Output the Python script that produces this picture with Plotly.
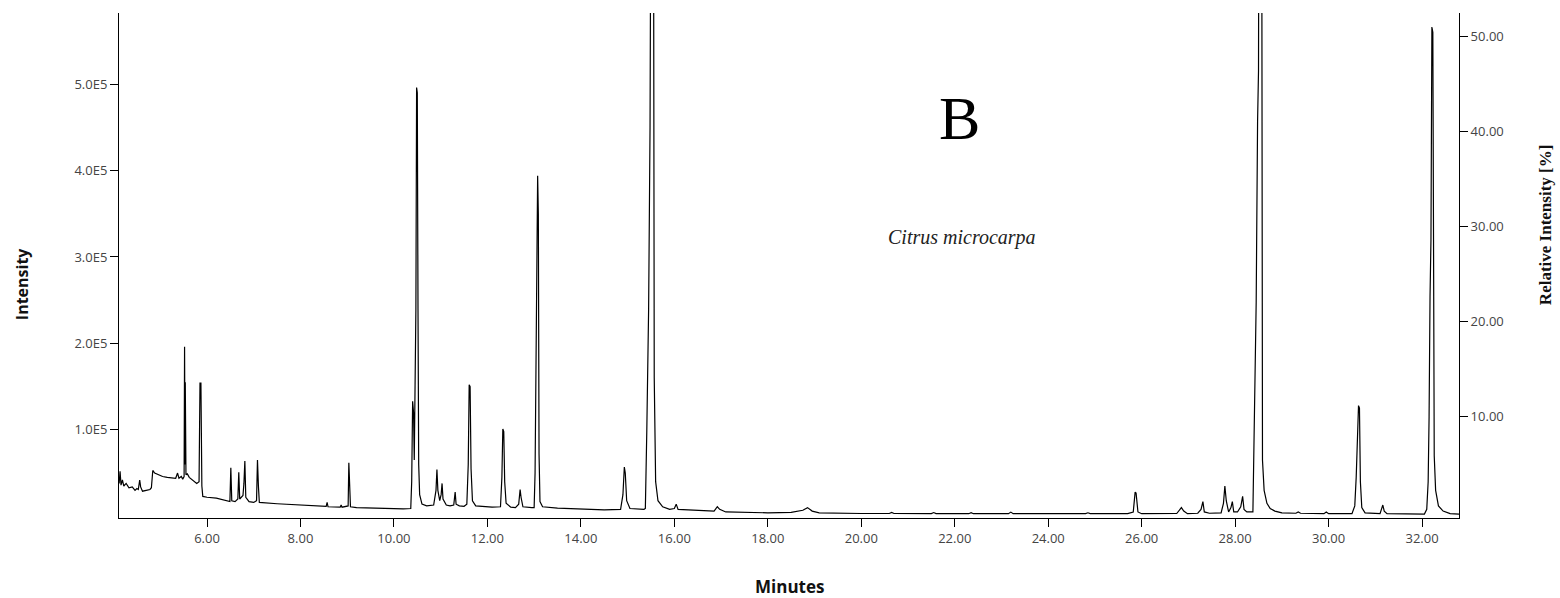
import plotly.graph_objects as go

# Retention time (minutes) and detector intensity
rt_min = [
    4.12, 4.14, 4.16, 4.19, 4.22, 4.27, 4.33, 4.40, 4.46, 4.50, 4.53, 4.56, 4.58, 4.62, 4.70, 4.78, 4.81,
    4.84, 4.88, 4.95, 5.05, 5.15, 5.25, 5.33, 5.37, 5.40, 5.45, 5.48, 5.51, 5.52, 5.53, 5.535, 5.55,
    5.58, 5.62, 5.70, 5.78, 5.83, 5.85, 5.87, 5.89, 5.91, 6.00, 6.20, 6.40, 6.49, 6.51, 6.53, 6.60,
    6.66, 6.68, 6.70, 6.77, 6.79, 6.81, 6.83, 6.90, 7.00, 7.06, 7.08, 7.10, 7.12, 7.50, 8.00, 8.20,
    8.55, 8.57, 8.59, 8.85, 8.87, 8.89, 9.02, 9.035, 9.05, 9.07, 9.20, 9.50, 9.80, 10.00, 10.20,
    10.36, 10.38, 10.40, 10.41, 10.42, 10.435, 10.455, 10.47, 10.485, 10.50, 10.515, 10.53, 10.55,
    10.60, 10.70, 10.85, 10.90, 10.92, 10.94, 10.98, 11.01, 11.03, 11.05, 11.12, 11.20, 11.28, 11.31,
    11.33, 11.40, 11.50, 11.56, 11.59, 11.61, 11.63, 11.65, 11.68, 11.75, 11.90, 12.10, 12.28, 12.31,
    12.33, 12.35, 12.37, 12.40, 12.50, 12.60, 12.67, 12.70, 12.72, 12.76, 12.95, 13.00, 13.02, 13.04,
    13.06, 13.075, 13.09, 13.105, 13.125, 13.18, 13.50, 14.00, 14.50, 14.85, 14.90, 14.93, 14.95,
    14.98, 15.05, 15.35, 15.38, 15.41, 15.45, 15.48, 15.51, 15.55, 15.57, 15.60, 15.65, 15.75, 15.90,
    16.00, 16.04, 16.08, 16.50, 16.85, 16.92, 16.97, 17.10, 17.50, 18.00, 18.50, 18.75, 18.85, 18.95,
    19.10, 19.50, 20.00, 20.60, 20.65, 20.70, 21.50, 21.55, 21.60, 22.30, 22.35, 22.40, 23.15, 23.20,
    23.25, 24.00, 24.80, 24.85, 24.90, 25.70, 25.82, 25.86, 25.88, 25.92, 26.00, 26.75, 26.85, 26.90,
    26.98, 27.20, 27.27, 27.31, 27.34, 27.45, 27.70, 27.75, 27.78, 27.81, 27.86, 27.91, 27.94, 27.97,
    28.05, 28.12, 28.16, 28.19, 28.25, 28.38, 28.40, 28.43, 28.45, 28.48, 28.50, 28.52, 28.56, 28.585,
    28.62, 28.68, 28.75, 28.85, 29.00, 29.30, 29.35, 29.40, 29.90, 29.95, 30.00, 30.50, 30.56, 30.59,
    30.62, 30.64, 30.66, 30.68, 30.71, 30.78, 31.10, 31.16, 31.19, 31.25, 32.05, 32.10, 32.13, 32.15,
    32.17, 32.19, 32.21, 32.23, 32.245, 32.26, 32.29, 32.35, 32.45, 32.60, 32.79,
]
intensity = [
    38000, 52000, 36000, 42000, 35000, 38000, 33000, 34000, 30000, 32000, 31000, 42000, 34000, 29000, 30000, 31000, 33000,
    53000, 50000, 48000, 46000, 45000, 44000, 44000, 50000, 44000, 46000, 43000, 46000, 196000, 60000, 155000, 48000,
    49000, 45000, 41000, 38000, 40000, 154000, 154000, 35000, 23000, 22000, 21000, 18000, 17000, 56000, 18000, 17000,
    20000, 51000, 20000, 24000, 38000, 64000, 22000, 17000, 16000, 18000, 65000, 35000, 16000, 14500, 13000, 12000,
    11500, 16000, 11000, 10500, 13000, 10500, 12000, 62000, 30000, 11000, 10000, 9500, 9000, 8500, 8500,
    9000, 40000, 133000, 128000, 120000, 65000, 200000, 240000, 496000, 490000, 240000, 60000, 25000,
    14000, 12000, 13000, 30000, 54000, 30000, 18000, 25000, 38000, 20000, 13000, 12000, 13000, 28000,
    14000, 12000, 11500, 14000, 60000, 152000, 150000, 55000, 18000, 12000, 11000, 10500, 11000, 45000,
    101000, 98000, 40000, 15000, 10500, 10000, 14000, 31000, 22000, 11000, 10000, 10000, 50000, 165000,
    340000, 394000, 350000, 72000, 17000, 11000, 9500, 8500, 7500, 8000, 25000, 57000, 50000,
    18000, 9000, 8000, 9000, 97000, 240000, 450000, 950000, 900000, 160000, 40000, 18000, 11000, 8000,
    9000, 14000, 8000, 6500, 6000, 11000, 8000, 5000, 4500, 4000, 4500, 7000, 10000, 6000,
    4000, 3500, 3200, 3200, 4500, 3200, 3100, 4300, 3100, 3000, 4200, 3000, 3000, 4800,
    3000, 3000, 3000, 4000, 3000, 3000, 5000, 28000, 27000, 5000, 3000, 3200, 10000, 6000,
    3000, 3500, 8000, 17000, 5000, 3500, 4000, 15000, 35000, 18000, 5000, 10000, 17000, 5000,
    5000, 11000, 23000, 8000, 5000, 5000, 65000, 155000, 247000, 457000, 515000, 1100000, 1100000, 65000,
    30000, 15000, 9000, 6000, 4000, 3500, 5000, 3500, 3000, 5000, 3000, 3000, 12000, 45000,
    110000, 128000, 125000, 40000, 10000, 4000, 3000, 13000, 6000, 3000, 2500, 8000, 40000, 115000,
    254000, 320000, 566000, 560000, 320000, 70000, 30000, 12000, 6000, 3000, 2500,
]

left_tick_vals = [100000, 200000, 300000, 400000, 500000]
left_tick_text = ["1.0E5", "2.0E5", "3.0E5", "4.0E5", "5.0E5"]
right_tick_vals = [10, 20, 30, 40, 50]
right_tick_text = ["10.00", "20.00", "30.00", "40.00", "50.00"]
x_tick_vals = [6, 8, 10, 12, 14, 16, 18, 20, 22, 24, 26, 28, 30, 32]
x_tick_text = ["%.2f" % v for v in x_tick_vals]

tick_font = dict(family="Open Sans, Noto Sans, sans-serif", size=13, color="#444444")

fig = go.Figure()
fig.add_trace(go.Scatter(
    x=rt_min, y=intensity, mode="lines",
    line=dict(color="black", width=1.2),
    showlegend=False, hoverinfo="x+y",
))
fig.add_trace(go.Scatter(x=[None], y=[None], yaxis="y2", showlegend=False, hoverinfo="skip"))

axis_common = dict(showline=True, linecolor="black", linewidth=1, ticks="outside",
                   ticklen=8, tickcolor="black", showgrid=False, zeroline=False,
                   tickfont=tick_font)

fig.update_layout(
    width=1560, height=598,
    margin=dict(l=119, r=101, t=13, b=80),
    paper_bgcolor="white", plot_bgcolor="white",
    xaxis=dict(range=[4.117, 32.79], tickvals=x_tick_vals, ticktext=x_tick_text, **axis_common),
    yaxis=dict(range=[-2000, 582200], tickvals=left_tick_vals, ticktext=left_tick_text, **axis_common),
    yaxis2=dict(range=[-0.66, 52.49], tickvals=right_tick_vals, ticktext=right_tick_text,
                overlaying="y", side="right", **axis_common),
)

annotations = [
    dict(text="<b>Intensity</b>", x=-0.0724, y=0.465, textangle=-90,
         font=dict(family="Open Sans, sans-serif", size=16, color="#111111")),
    dict(text="<b>Minutes</b>", x=0.5, y=-0.1366,
         font=dict(family="Open Sans, sans-serif", size=17, color="#111111")),
    dict(text="<b>Relative Intensity [%]</b>", x=1.0642, y=0.580, textangle=-90,
         font=dict(family="Liberation Serif, serif", size=17, color="#111111")),
    dict(text="B", x=0.6276, y=0.792,
         font=dict(family="Liberation Serif, serif", size=62, color="black")),
    dict(text="<i>Citrus microcarpa</i>", x=0.629, y=0.5545,
         font=dict(family="Liberation Serif, serif", size=20, color="#222222")),
]
for a in annotations:
    a.update(xref="paper", yref="paper", showarrow=False, xanchor="center", yanchor="middle")
fig.update_layout(annotations=annotations)

fig.write_html("out.html")
